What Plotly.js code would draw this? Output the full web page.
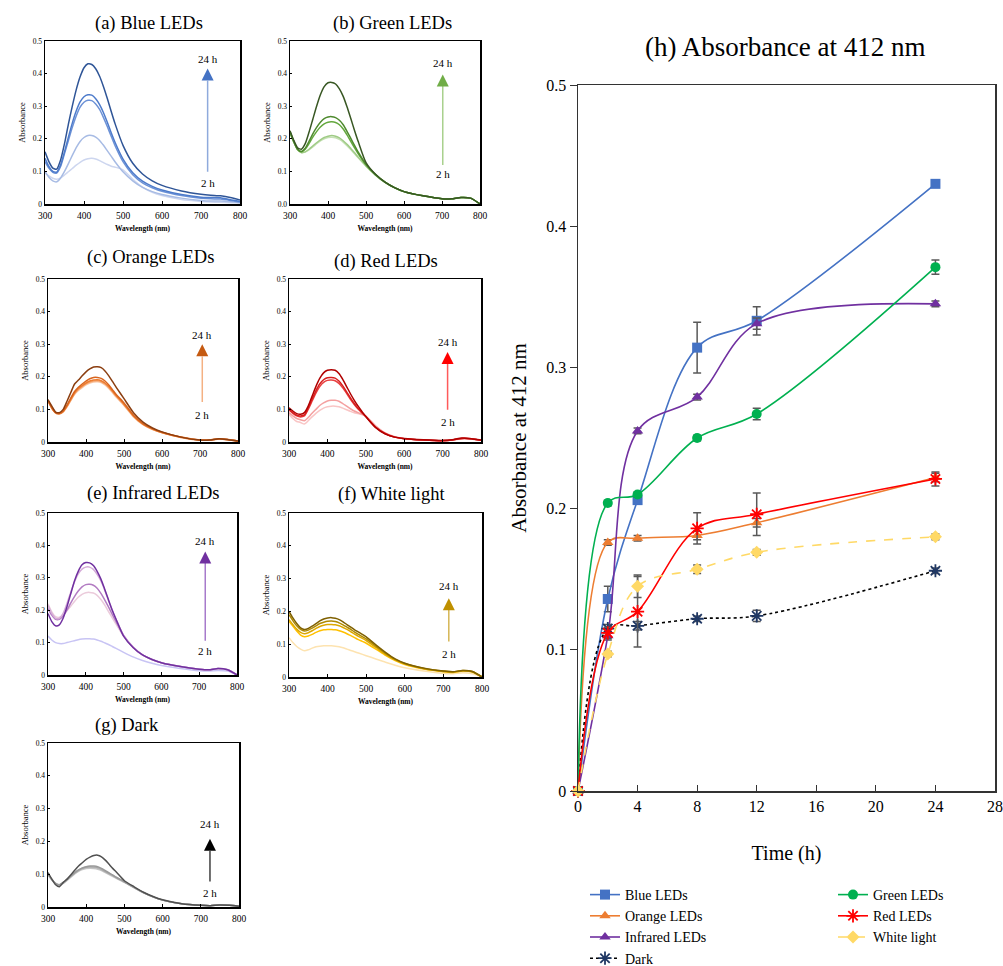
<!DOCTYPE html>
<html><head><meta charset="utf-8">
<script src="https://cdn.plot.ly/plotly-3.0.1.min.js"></script>
<style>html,body{margin:0;padding:0;background:#fff}#chart{width:1003px;height:966px}</style>
</head><body><div id="chart"></div>
<script>
// ---------- spectra data (wavelength grid, nm) ----------
const wavelength = [300,310,320,330,340,350,360,370,380,390,400,410,420,430,440,450,460,470,480,500,525,550,575,600,650,700,725,750,775,800];
const spectraLabels = ['2 h','4 h','8 h','12 h','24 h'];

// (a) Blue LEDs
const blue2h  = [0.095,0.086,0.079,0.076,0.080,0.089,0.099,0.109,0.119,0.128,0.135,0.139,0.140,0.138,0.133,0.127,0.121,0.116,0.113,0.105,0.076,0.052,0.036,0.026,0.014,0.008,0.006,0.005,0.004,0.003];
const blue4h  = [0.100,0.082,0.071,0.068,0.080,0.100,0.124,0.149,0.173,0.192,0.204,0.210,0.210,0.205,0.195,0.180,0.163,0.146,0.129,0.099,0.071,0.051,0.038,0.029,0.018,0.011,0.009,0.009,0.007,0.004];
const blue8h  = [0.130,0.110,0.097,0.095,0.115,0.155,0.195,0.235,0.270,0.297,0.312,0.318,0.317,0.307,0.290,0.265,0.237,0.207,0.178,0.130,0.090,0.065,0.050,0.039,0.026,0.018,0.016,0.015,0.011,0.006];
const blue12h = [0.140,0.115,0.100,0.098,0.120,0.160,0.205,0.248,0.285,0.313,0.329,0.335,0.334,0.323,0.305,0.280,0.250,0.218,0.188,0.138,0.096,0.070,0.054,0.043,0.029,0.021,0.020,0.019,0.013,0.008];
const blue24h = [0.160,0.130,0.110,0.107,0.135,0.185,0.245,0.300,0.350,0.390,0.418,0.430,0.428,0.415,0.392,0.360,0.323,0.283,0.245,0.180,0.125,0.092,0.071,0.057,0.040,0.030,0.027,0.025,0.020,0.012];
// (b) Green LEDs
const green2h  = [0.220,0.190,0.166,0.157,0.159,0.166,0.175,0.185,0.194,0.200,0.204,0.205,0.203,0.198,0.190,0.179,0.167,0.154,0.141,0.116,0.088,0.066,0.050,0.038,0.025,0.016,0.016,0.020,0.018,0.000];
const green4h  = [0.220,0.190,0.167,0.158,0.160,0.168,0.178,0.188,0.197,0.204,0.208,0.210,0.208,0.203,0.194,0.183,0.170,0.157,0.143,0.117,0.089,0.066,0.050,0.038,0.025,0.016,0.016,0.020,0.018,0.000];
const green8h  = [0.220,0.190,0.167,0.160,0.168,0.185,0.205,0.222,0.236,0.246,0.251,0.252,0.250,0.243,0.230,0.212,0.192,0.172,0.153,0.120,0.090,0.067,0.050,0.038,0.025,0.016,0.016,0.020,0.018,0.000];
const green12h = [0.222,0.192,0.168,0.161,0.171,0.192,0.215,0.235,0.251,0.262,0.267,0.268,0.265,0.257,0.243,0.223,0.201,0.179,0.158,0.122,0.090,0.067,0.050,0.038,0.025,0.016,0.016,0.020,0.018,0.000];
const green24h = [0.225,0.195,0.172,0.168,0.185,0.220,0.260,0.300,0.335,0.360,0.372,0.373,0.368,0.353,0.330,0.298,0.262,0.225,0.190,0.127,0.091,0.067,0.050,0.038,0.025,0.016,0.016,0.020,0.018,0.000];
// (c) Orange LEDs
const orange2h  = [0.125,0.103,0.089,0.086,0.092,0.108,0.127,0.146,0.158,0.167,0.175,0.181,0.184,0.185,0.182,0.175,0.164,0.151,0.137,0.112,0.077,0.053,0.038,0.028,0.014,0.006,0.006,0.009,0.007,0.003];
const orange4h  = [0.126,0.104,0.089,0.087,0.093,0.109,0.129,0.148,0.161,0.170,0.178,0.184,0.187,0.188,0.185,0.178,0.167,0.154,0.140,0.114,0.079,0.054,0.039,0.029,0.014,0.006,0.006,0.009,0.007,0.003];
const orange8h  = [0.127,0.105,0.090,0.087,0.094,0.111,0.131,0.151,0.164,0.173,0.181,0.187,0.190,0.191,0.188,0.181,0.170,0.156,0.142,0.116,0.080,0.055,0.040,0.029,0.015,0.006,0.006,0.009,0.007,0.003];
const orange12h = [0.128,0.105,0.090,0.088,0.095,0.113,0.135,0.155,0.168,0.178,0.187,0.194,0.198,0.198,0.195,0.187,0.175,0.160,0.145,0.120,0.082,0.056,0.041,0.030,0.015,0.006,0.006,0.010,0.008,0.003];
const orange24h = [0.130,0.110,0.092,0.090,0.100,0.125,0.152,0.178,0.190,0.203,0.215,0.224,0.230,0.231,0.228,0.218,0.203,0.185,0.167,0.133,0.090,0.061,0.043,0.031,0.015,0.006,0.006,0.010,0.007,0.003];
// (d) Red LEDs
const red2h  = [0.085,0.072,0.063,0.060,0.055,0.065,0.077,0.088,0.097,0.104,0.108,0.110,0.110,0.108,0.104,0.099,0.094,0.090,0.087,0.080,0.050,0.028,0.016,0.010,0.006,0.004,0.006,0.010,0.009,0.005];
const red4h  = [0.090,0.080,0.072,0.068,0.065,0.075,0.088,0.100,0.112,0.120,0.126,0.128,0.128,0.125,0.118,0.110,0.102,0.095,0.090,0.079,0.050,0.028,0.016,0.010,0.006,0.004,0.006,0.010,0.009,0.005];
const red8h  = [0.098,0.088,0.080,0.077,0.080,0.100,0.125,0.150,0.170,0.183,0.189,0.190,0.188,0.180,0.166,0.149,0.131,0.115,0.101,0.078,0.046,0.026,0.015,0.010,0.006,0.004,0.006,0.011,0.010,0.005];
const red12h = [0.100,0.090,0.082,0.080,0.083,0.104,0.131,0.157,0.178,0.191,0.197,0.198,0.196,0.187,0.172,0.154,0.135,0.118,0.103,0.078,0.046,0.026,0.015,0.010,0.006,0.004,0.006,0.011,0.010,0.005];
const red24h = [0.105,0.095,0.087,0.085,0.090,0.110,0.140,0.170,0.195,0.212,0.220,0.222,0.220,0.210,0.192,0.170,0.148,0.128,0.110,0.078,0.045,0.025,0.015,0.011,0.007,0.005,0.007,0.012,0.010,0.006];
// (e) Infrared LEDs
const ir2h  = [0.120,0.108,0.100,0.097,0.097,0.100,0.103,0.106,0.109,0.111,0.112,0.112,0.111,0.108,0.104,0.099,0.094,0.088,0.082,0.070,0.056,0.045,0.036,0.029,0.020,0.013,0.012,0.014,0.012,0.000];
const ir4h  = [0.220,0.195,0.180,0.178,0.185,0.198,0.212,0.227,0.240,0.249,0.254,0.255,0.253,0.246,0.233,0.216,0.196,0.176,0.157,0.120,0.085,0.062,0.048,0.038,0.026,0.018,0.016,0.020,0.016,0.000];
const ir8h  = [0.205,0.185,0.172,0.172,0.182,0.200,0.222,0.242,0.259,0.272,0.279,0.280,0.277,0.268,0.252,0.232,0.210,0.187,0.165,0.122,0.086,0.062,0.048,0.038,0.026,0.018,0.016,0.020,0.016,0.000];
const ir12h = [0.215,0.190,0.175,0.175,0.190,0.220,0.255,0.287,0.312,0.327,0.333,0.333,0.326,0.311,0.290,0.262,0.230,0.200,0.172,0.122,0.086,0.062,0.048,0.038,0.026,0.018,0.016,0.020,0.016,0.000];
const ir24h = [0.190,0.165,0.152,0.155,0.175,0.210,0.250,0.290,0.320,0.340,0.347,0.346,0.338,0.320,0.296,0.265,0.232,0.200,0.172,0.120,0.085,0.062,0.048,0.038,0.026,0.018,0.016,0.020,0.016,0.000];
// (f) White light
const white2h  = [0.120,0.105,0.093,0.085,0.080,0.083,0.088,0.092,0.094,0.095,0.095,0.095,0.094,0.092,0.089,0.085,0.081,0.077,0.073,0.065,0.055,0.045,0.036,0.028,0.018,0.011,0.010,0.013,0.010,0.000];
const white4h  = [0.170,0.155,0.140,0.128,0.123,0.125,0.130,0.136,0.141,0.144,0.145,0.145,0.144,0.141,0.137,0.132,0.126,0.120,0.114,0.103,0.085,0.066,0.050,0.038,0.024,0.016,0.014,0.018,0.015,0.000];
const white8h  = [0.175,0.160,0.146,0.136,0.132,0.135,0.141,0.148,0.154,0.158,0.160,0.160,0.159,0.156,0.151,0.145,0.138,0.131,0.124,0.111,0.090,0.069,0.052,0.040,0.025,0.017,0.015,0.019,0.016,0.000];
const white12h = [0.190,0.172,0.156,0.145,0.140,0.143,0.149,0.156,0.163,0.167,0.170,0.171,0.169,0.165,0.159,0.152,0.145,0.137,0.130,0.116,0.094,0.072,0.054,0.041,0.026,0.018,0.016,0.020,0.017,0.000];
const white24h = [0.200,0.180,0.163,0.150,0.145,0.148,0.155,0.163,0.171,0.177,0.180,0.181,0.179,0.175,0.168,0.160,0.152,0.144,0.137,0.122,0.098,0.075,0.055,0.042,0.027,0.018,0.016,0.020,0.017,0.000];
// (g) Dark
const dark2h  = [0.098,0.082,0.070,0.066,0.072,0.081,0.091,0.101,0.109,0.114,0.117,0.118,0.117,0.115,0.111,0.105,0.099,0.093,0.087,0.075,0.059,0.043,0.031,0.021,0.010,0.005,0.004,0.006,0.005,0.002];
const dark4h  = [0.100,0.083,0.071,0.067,0.073,0.082,0.093,0.103,0.111,0.117,0.120,0.121,0.120,0.118,0.113,0.107,0.101,0.095,0.088,0.076,0.059,0.043,0.031,0.021,0.010,0.005,0.004,0.006,0.005,0.002];
const dark8h  = [0.100,0.084,0.072,0.068,0.074,0.083,0.094,0.104,0.112,0.118,0.121,0.123,0.122,0.120,0.115,0.108,0.102,0.096,0.089,0.077,0.060,0.044,0.031,0.021,0.010,0.005,0.004,0.006,0.005,0.002];
const dark12h = [0.102,0.085,0.072,0.068,0.075,0.085,0.095,0.105,0.113,0.119,0.123,0.125,0.125,0.123,0.118,0.111,0.104,0.097,0.090,0.077,0.060,0.044,0.031,0.021,0.010,0.005,0.004,0.006,0.005,0.002];
const dark24h = [0.105,0.085,0.068,0.062,0.075,0.085,0.098,0.112,0.125,0.135,0.145,0.152,0.157,0.158,0.153,0.143,0.130,0.117,0.105,0.080,0.062,0.045,0.032,0.022,0.010,0.005,0.004,0.006,0.005,0.002];

// ---------- (h) absorbance at 412 nm vs time ----------
const timeH = [0,2,4,8,12,24];
const absBlue     = [0,0.136,0.206,0.314,0.333,0.430];
const errBlue     = [0,0.009,0.003,0.018,0.010,0.002];
const absGreen    = [0,0.204,0.210,0.250,0.267,0.371];
const errGreen    = [0,0.002,0.002,0.002,0.004,0.005];
const absOrange   = [0,0.176,0.179,0.181,0.190,0.222];
const errOrange   = [0,0.002,0.002,0.003,0.003,0.003];
const absRed      = [0,0.112,0.127,0.186,0.196,0.221];
const errRed      = [0,0.004,0.025,0.011,0.015,0.005];
const absInfrared = [0,0.110,0.255,0.279,0.331,0.345];
const errInfrared = [0,0.003,0.002,0.002,0.004,0.002];
const absWhite    = [0,0.097,0.145,0.157,0.169,0.180];
const errWhite    = [0,0.002,0.008,0.003,0.002,0.002];
const absDark     = [0,0.115,0.117,0.122,0.124,0.156];
const errDark     = [0,0.003,0.003,0.002,0.004,0.002];

// ---------- panels ----------
const W = 1003, H = 966;
const serif = 'Liberation Serif, Times New Roman, serif';
const panels = [
  {title:'(a) Blue LEDs', box:[45,240,41,204], tx:149, ty:23, fmt:'', series:[blue2h,blue4h,blue8h,blue12h,blue24h],
   colors:['#CDD6EF','#A7BBE4','#6D92D6','#4D7BCB','#2F5597'], arrow:{x:717,t24:0.444,tip:0.416,base:0.378,bot:0.094,t2:0.065,line:'#8FAADC',head:'#4472C4'}},
  {title:'(b) Green LEDs', box:[290,480,41,204], tx:392, ty:23, fmt:'.1f', series:[green2h,green4h,green8h,green12h,green24h],
   colors:['#C5E0B4','#9FCB85','#64A83E','#4E8A2E','#385723'], arrow:{x:702,t24:0.433,tip:0.397,base:0.363,bot:0.115,t2:0.091,line:'#A9D18E',head:'#70AD47'}},
  {title:'(c) Orange LEDs', box:[48,238,279,442], tx:150, ty:258, fmt:'', series:[orange2h,orange4h,orange8h,orange12h,orange24h],
   colors:['#F8C8A8','#F5A36B','#ED7D31','#D9651E','#8B3E10'], arrow:{x:706,t24:0.329,tip:0.300,base:0.262,bot:0.118,t2:0.082,line:'#F4B183',head:'#C55A11'}},
  {title:'(d) Red LEDs', box:[289,481,279,442], tx:386, ty:261, fmt:'', series:[red2h,red4h,red8h,red12h,red24h],
   colors:['#F9C5C5','#F4A0A0','#E84040','#D81E1E','#B00000'], arrow:{x:713,t24:0.306,tip:0.276,base:0.240,bot:0.094,t2:0.060,line:'#FF5A5A',head:'#FF0000'}},
  {title:'(e) Infrared LEDs', box:[48,237,513,675], tx:153, ty:493, fmt:'', series:[ir2h,ir4h,ir8h,ir12h,ir24h],
   colors:['#C8C4F4','#EBCBDB','#B27BC2','#D5ACD8','#7030A0'], arrow:{x:716,t24:0.415,tip:0.381,base:0.347,bot:0.101,t2:0.073,line:'#A77BCB',head:'#7030A0'}},
  {title:'(f) White light', box:[289,482,513,677], tx:391, ty:494, fmt:'', series:[white2h,white4h,white8h,white12h,white24h],
   colors:['#FDE3B0','#FFC000','#DDA800','#B08A00','#7F6000'], arrow:{x:714,t24:0.278,tip:0.240,base:0.204,bot:0.104,t2:0.069,line:'#D6B656',head:'#BF9000'}},
  {title:'(g) Dark', box:[48,239,743,907], tx:127, ty:725, fmt:'', series:[dark2h,dark4h,dark8h,dark12h,dark24h],
   colors:['#C8C8C8','#BDBDBD','#ABABAB','#9A9A9A','#505050'], arrow:{x:724,t24:0.252,tip:0.208,base:0.171,bot:0.073,t2:0.043,line:'#404040',head:'#000000'}}
];

const traces = [];
const layout = {
  width: W, height: H, margin:{l:0,r:0,t:0,b:0,autoexpand:false}, paper_bgcolor:'#fff', plot_bgcolor:'#fff',
  font:{family:serif, color:'#000'}, showlegend:true, annotations:[],
  legend:{x:585/W, y:1-879/H, xanchor:'left', yanchor:'top', font:{family:serif,size:14,color:'#000'}, bgcolor:'rgba(0,0,0,0)', tracegroupgap:0},
  legend2:{x:833/W, y:1-879/H, xanchor:'left', yanchor:'top', font:{family:serif,size:14,color:'#000'}, bgcolor:'rgba(0,0,0,0)', tracegroupgap:0}
};

panels.forEach((p, i) => {
  const n = i + 1;
  const xa = n === 1 ? 'x' : 'x' + n, ya = n === 1 ? 'y' : 'y' + n;
  const [l, r, t, b] = p.box;
  layout['xaxis' + (n === 1 ? '' : n)] = {
    domain:[l/W, r/W], anchor: ya, range:[300,800], dtick:100, tick0:300,
    showline:true, mirror:true, linecolor:'#000', linewidth:1.5, ticks:'inside', ticklen:3, tickcolor:'#000',
    ticklabelstandoff:2,
    showgrid:false, zeroline:false, tickfont:{size:9.5, family:serif, color:'#000'},
    title:{text:'<b>Wavelength (nm)</b>', font:{size:7.5, family:serif, color:'#000'}, standoff:6}
  };
  layout['yaxis' + (n === 1 ? '' : n)] = {
    domain:[1-b/H, 1-t/H], anchor: xa, range:[0,0.5], dtick:0.1, tickformat:p.fmt,
    showline:true, mirror:true, linecolor:'#000', linewidth:1.5, ticks:'inside', ticklen:2, tickcolor:'#000',
    showgrid:false, zeroline:false, tickfont:{size:7.5, family:serif, color:'#000'},
    title:{text:'Absorbance', font:{size:8.5, family:serif, color:'#000'}, standoff:5}
  };
  p.series.forEach((s, k) => {
    traces.push({x:wavelength, y:s, xaxis:xa, yaxis:ya, type:'scatter', mode:'lines', name:spectraLabels[k],
      showlegend:false, hoverinfo:'skip', line:{color:p.colors[k], width:1.5, shape:'spline', smoothing:0.6}});
  });
  layout.annotations.push({xref:'paper', yref:'paper', x:p.tx/W, y:1-p.ty/H, text:p.title, showarrow:false,
    font:{size:18.5, family:serif, color:'#000'}, xanchor:'center', yanchor:'middle'});
  const A = p.arrow;
  layout.annotations.push({xref:xa, yref:ya, x:A.x, y:A.t24, text:'24 h', showarrow:false, font:{size:11, family:serif, color:'#000'}});
  layout.annotations.push({xref:xa, yref:ya, x:A.x, y:A.t2, text:'2 h', showarrow:false, font:{size:11, family:serif, color:'#000'}});
  layout.annotations.push({xref:xa, yref:ya, axref:xa, ayref:ya, x:A.x, y:A.base, ax:A.x, ay:A.bot, text:'',
    showarrow:true, arrowhead:0, arrowwidth:1.5, arrowcolor:A.line, standoff:0, startstandoff:0});
  layout.annotations.push({xref:xa, yref:ya, axref:xa, ayref:ya, x:A.x, y:A.tip, ax:A.x, ay:A.base, text:'',
    showarrow:true, arrowhead:2, arrowsize:1.6, arrowwidth:1.5, arrowcolor:A.head, standoff:0, startstandoff:0});
});

// main panel (h)
layout.xaxis8 = {domain:[578/W, 995/W], anchor:'y8', range:[0,28], dtick:4, tick0:0,
  showline:true, mirror:true, linecolor:'#333', linewidth:1.5, ticks:'inside', ticklen:6, tickcolor:'#333',
  showgrid:false, zeroline:false, tickfont:{size:16, family:serif, color:'#000'},
  title:{text:'Time (h)', font:{size:20, family:serif, color:'#000'}, standoff:32}};
layout.yaxis8 = {domain:[1-791/H, 1-85/H], anchor:'x8', range:[0,0.5], dtick:0.1, tick0:0,
  showline:true, mirror:true, linecolor:'#333', linewidth:1.5, ticks:'outside', ticklen:7, tickcolor:'#333',
  showgrid:false, zeroline:false, tickfont:{size:16, family:serif, color:'#000'},
  title:{text:'Absorbance at 412 nm', font:{size:21, family:serif, color:'#000'}, standoff:14}};
layout.annotations.push({xref:'paper', yref:'paper', x:785/W, y:1-47/H, text:'(h) Absorbance at 412 nm', showarrow:false,
  font:{size:27, family:serif, color:'#000'}, xanchor:'center', yanchor:'middle'});

function mainTrace(name, y, err, color, symbol, dash, mcolor, legend) {
  return {x:timeH, y:y, xaxis:'x8', yaxis:'y8', type:'scatter', mode:'lines+markers', name:name, legend:legend,
    cliponaxis:false,
    line:{color:color, width:1.6, shape:'spline', smoothing:1, dash:dash},
    marker:{symbol:symbol, size:symbol.indexOf('asterisk')>=0 ? 11 : 10, color:mcolor,
      line:{color:mcolor, width:symbol.indexOf('asterisk')>=0 ? 1.8 : 0}},
    error_y:{type:'data', array:err, visible:true, color:'#595959', thickness:1.5, width:4}};
}
traces.push(mainTrace('Blue LEDs', absBlue, errBlue, '#4472C4', 'square', 'solid', '#4472C4', 'legend'));
traces.push(mainTrace('Orange LEDs', absOrange, errOrange, '#ED7D31', 'triangle-up', 'solid', '#ED7D31', 'legend'));
traces.push(mainTrace('Infrared LEDs', absInfrared, errInfrared, '#7030A0', 'triangle-up', 'solid', '#7030A0', 'legend'));
traces.push(mainTrace('Dark', absDark, errDark, '#000000', 'asterisk-open', 'dot', '#203864', 'legend'));
traces.push(mainTrace('Green LEDs', absGreen, errGreen, '#00B050', 'circle', 'solid', '#00B050', 'legend2'));
traces.push(mainTrace('Red LEDs', absRed, errRed, '#FF0000', 'asterisk-open', 'solid', '#FF0000', 'legend2'));
traces.push(mainTrace('White light', absWhite, errWhite, '#FFD966', 'diamond', 'dash', '#FFD966', 'legend2'));

Plotly.newPlot('chart', traces, layout, {staticPlot:true, displayModeBar:false});
</script></body></html>
